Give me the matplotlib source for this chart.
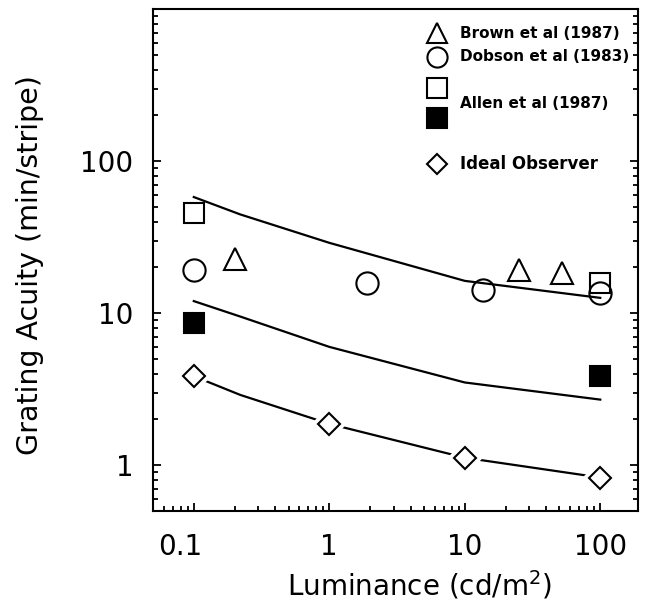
import matplotlib
matplotlib.use("Agg")
import matplotlib.pyplot as plt
from matplotlib.transforms import ScaledTranslation

# measured grating acuity (min/stripe) vs. luminance (cd/m^2)
brown_lum = [0.2, 25, 52]
brown_acu = [22.7, 19.1, 18.4]

dobson_lum = [0.1, 1.9, 13.7, 100]
dobson_acu = [19.2, 15.8, 14.1, 13.6]

allen_lum = [0.1, 100]
allen_open = [45.7, 15.8]
allen_filled = [8.55, 3.85]

ideal_lum = [0.1, 1, 10, 100]
ideal_acu = [3.85, 1.87, 1.12, 0.83]

# model curves
model_lum = [0.1, 0.22, 1, 10, 100]
model_upper = [58, 44.6, 29, 16.3, 12.6]
model_lower = [12, 9.5, 6.0, 3.5, 2.7]
model_ideal = [3.85, 2.9, 1.87, 1.12, 0.83]

xticks = [0.1, 1, 10, 100]
xticklabels = ["0.1", "1", "10", "100"]
yticks = [1, 10, 100]
yticklabels = ["1", "10", "100"]

plt.rcParams["font.family"] = "DejaVu Sans"

fig = plt.figure(figsize=(6.5, 6.04), dpi=100)
ax = fig.add_axes([0.2354, 0.154, 0.7462, 0.8311])
ax.set_xscale("log")
ax.set_yscale("log")
ax.set_xlim(0.05, 190)
ax.set_ylim(0.5, 1000)

lw = 1.6
mew = 1.5
ax.plot(model_lum, model_upper, color="black", lw=lw, zorder=2)
ax.plot(model_lum, model_lower, color="black", lw=lw, zorder=2)
ax.plot(model_lum, model_ideal, color="black", lw=lw, zorder=2)

# ideal observer diamonds with a white gap around them
ax.plot(ideal_lum, ideal_acu, ls="none", marker="D", ms=11, mfc="white",
        mec="white", mew=7, zorder=3)
ax.plot(ideal_lum, ideal_acu, ls="none", marker="D", ms=11, mfc="white",
        mec="black", mew=mew, zorder=4)

ax.plot(brown_lum, brown_acu, ls="none", marker="^", ms=16, mfc="none",
        mec="black", mew=mew, zorder=4)
ax.plot(dobson_lum, dobson_acu, ls="none", marker="o", ms=16, mfc="none",
        mec="black", mew=mew, zorder=4)
ax.plot(allen_lum, allen_open, ls="none", marker="s", ms=15, mfc="none",
        mec="black", mew=mew, zorder=4)
ax.plot(allen_lum, allen_filled, ls="none", marker="s", ms=15, mfc="black",
        mec="black", mew=mew, zorder=4)

# legend drawn by hand so the two Allen squares share one label
lx = 0.585
tx = 0.633
legend_rows = [
    ("^", "none", 0.9516, "Brown et al (1987)"),
    ("o", "none", 0.9052, "Dobson et al (1983)"),
    ("s", "none", 0.8422, None),
    ("s", "black", 0.7825, None),
    ("D", "white", 0.6917, "Ideal Observer"),
]
for mk, fc, ly, label in legend_rows:
    ms = 10.5 if mk == "D" else 14.5
    ax.plot([lx], [ly], transform=ax.transAxes, marker=mk, ms=ms, mfc=fc,
            mec="black", mew=mew, ls="none", clip_on=False)
    if label is not None:
        size = 12 if mk == "D" else 11
        ax.text(tx, ly, label, transform=ax.transAxes, fontsize=size,
                fontweight="bold", va="center", ha="left")
ax.text(tx, 0.8123, "Allen et al (1987)", transform=ax.transAxes,
        fontsize=11, fontweight="bold", va="center", ha="left")

ax.set_xticks(xticks)
ax.set_xticklabels(xticklabels)
ax.set_yticks(yticks)
ax.set_yticklabels(yticklabels)
ax.tick_params(which="both", direction="in", top=False, right=True,
               width=1.3)
ax.tick_params(which="major", length=6, labelsize=20, pad=14)
ax.tick_params(which="minor", length=3.5)
ax.tick_params(axis="x", which="major", pad=16)
for sp in ax.spines.values():
    sp.set_linewidth(1.5)

# nudge the "0.1" label a little to the left
first = ax.get_xticklabels()[0]
first.set_transform(first.get_transform()
                    + ScaledTranslation(-0.14, 0, fig.dpi_scale_trans))

ax.set_xlabel("Luminance (cd/m$^2$)", fontsize=20)
ax.xaxis.set_label_coords(0.55, -0.115)
ax.set_ylabel("Grating Acuity (min/stripe)", fontsize=20.5)
ax.yaxis.set_label_coords(-0.225, 0.49)

fig.savefig("out.png", dpi=100)
